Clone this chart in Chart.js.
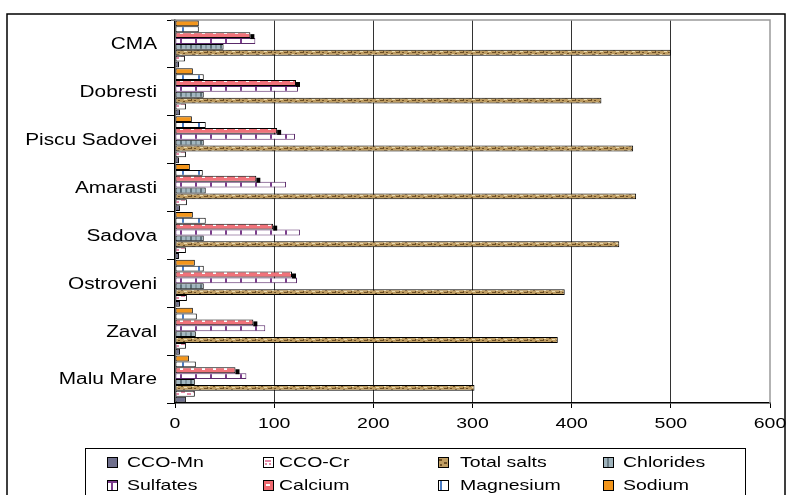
<!DOCTYPE html>
<html>
<head>
<meta charset="utf-8">
<script src="https://cdn.jsdelivr.net/npm/chart.js@4"></script>
<style>
  html, body { margin: 0; padding: 0; background: #fff; }
  #wrap { position: relative; width: 793px; height: 495px; }
</style>
</head>
<body>
<div id="wrap"><canvas id="chart" width="793" height="495"></canvas></div>
<script>
// stations, top to bottom
const stations = ['CMA', 'Dobresti', 'Piscu Sadovei', 'Amarasti', 'Sadova', 'Ostroveni', 'Zaval', 'Malu Mare'];
const xTicks = [0, 100, 200, 300, 400, 500, 600];

// values (mg/l), same order as stations
const ccoMn      = [4, 5, 4, 5, 4, 5, 5, 11];
const ccoCr      = [10, 11, 11, 12, 11, 12, 11, 20];
const totalSalts = [500, 430, 462, 465, 448, 393, 386, 302];
const chlorides  = [49, 29, 29, 31, 29, 29, 21, 20];
const sulfates   = [81, 124, 121, 112, 126, 123, 91, 72];
const calcium    = [76, 122, 103, 82, 99, 118, 79, 61];
const magnesium  = [24, 29, 31, 28, 31, 29, 22, 21];
const sodium     = [24, 18, 17, 15, 18, 20, 18, 14];

const FONT = '"Liberation Sans", Arial, sans-serif';
const STRETCH = 1.3; // the original text is drawn wide

// small tiles to mimic the excel fill textures
function tile(w, h, paint) {
    const c = document.createElement('canvas');
    c.width = w; c.height = h;
    const g = c.getContext('2d');
    paint(g);
    return document.getElementById('chart').getContext('2d').createPattern(c, 'repeat');
}

const fills = {
    ccoMn: '#6f6f8c',
    ccoCr: tile(12, 6, g => {
        g.fillStyle = '#fff'; g.fillRect(0, 0, 12, 6);
        g.fillStyle = '#e58aa8';
        g.fillRect(1, 1, 4, 2); g.fillRect(7, 3, 4, 2);
    }),
    totalSalts: tile(16, 6, g => {
        g.fillStyle = '#bf9d62'; g.fillRect(0, 0, 16, 6);
        g.fillStyle = '#6e5026';
        g.fillRect(0, 0, 3, 1); g.fillRect(5, 2, 2, 1); g.fillRect(10, 1, 3, 1);
        g.fillRect(2, 4, 2, 1); g.fillRect(12, 4, 3, 1); g.fillRect(7, 5, 2, 1);
        g.fillRect(15, 3, 1, 2);
        g.fillStyle = '#eadbb0';
        g.fillRect(4, 0, 2, 1); g.fillRect(8, 3, 3, 1); g.fillRect(14, 1, 2, 1); g.fillRect(0, 2, 2, 1);
    }),
    chlorides: tile(10, 6, g => {
        g.fillStyle = '#a3b7c0'; g.fillRect(0, 0, 10, 6);
        g.fillStyle = '#5f717a'; g.fillRect(0, 0, 2, 6);
        g.fillStyle = '#82969f'; g.fillRect(5, 0, 2, 6);
    }),
    sulfates: tile(15, 6, g => {
        g.fillStyle = '#fff'; g.fillRect(0, 0, 15, 6);
        g.fillStyle = '#7b3d8c'; g.fillRect(0, 0, 2, 6);
    }),
    calcium: tile(11, 6, g => {
        g.fillStyle = '#f0727a'; g.fillRect(0, 0, 11, 6);
        g.fillStyle = '#fff'; g.fillRect(4, 2, 3, 2);
    }),
    magnesium: tile(16, 6, g => {
        g.fillStyle = '#fff'; g.fillRect(0, 0, 16, 6);
        g.fillStyle = '#4a7cc4'; g.fillRect(6, 0, 2, 6);
    }),
    sodium: '#f3961c'
};

// legend swatches (10x10), drawn by hand so the texture reads at that size
const swatches = {
    ccoMn: (g, x, y) => { g.fillStyle = '#6f6f8c'; g.fillRect(x, y, 10, 10); },
    ccoCr: (g, x, y) => {
        g.fillStyle = '#fff'; g.fillRect(x, y, 10, 10);
        g.fillStyle = '#e58aa8'; g.fillRect(x + 2, y + 3, 6, 2); g.fillRect(x + 2, y + 6, 2, 2); g.fillRect(x + 6, y + 6, 2, 2);
    },
    totalSalts: (g, x, y) => {
        g.fillStyle = '#bf9d62'; g.fillRect(x, y, 10, 10);
        g.fillStyle = '#6e5026'; g.fillRect(x + 1, y + 2, 3, 2); g.fillRect(x + 6, y + 5, 3, 2); g.fillRect(x + 2, y + 7, 2, 2);
    },
    chlorides: (g, x, y) => {
        g.fillStyle = '#9fb3bc'; g.fillRect(x, y, 10, 10);
        g.fillStyle = '#6b7d86'; g.fillRect(x + 4, y, 2, 10);
    },
    sulfates: (g, x, y) => {
        g.fillStyle = '#fff'; g.fillRect(x, y, 10, 10);
        g.fillStyle = '#7b3d8c'; g.fillRect(x, y, 10, 3); g.fillRect(x + 4, y, 2, 10);
    },
    calcium: (g, x, y) => {
        g.fillStyle = '#f06a70'; g.fillRect(x, y, 10, 10);
        g.fillStyle = '#fff'; g.fillRect(x + 3, y + 4, 4, 2);
    },
    magnesium: (g, x, y) => {
        g.fillStyle = '#fff'; g.fillRect(x, y, 10, 10);
        g.fillStyle = '#4a7cc4'; g.fillRect(x + 2, y, 2, 10);
    },
    sodium: (g, x, y) => { g.fillStyle = '#f3961c'; g.fillRect(x, y, 10, 10); }
};

// legend order as in the picture
const series = [
    { key: 'ccoMn', label: 'CCO-Mn', data: ccoMn, border: '#000' },
    { key: 'ccoCr', label: 'CCO-Cr', data: ccoCr, border: '#000' },
    { key: 'totalSalts', label: 'Total salts', data: totalSalts, border: '#000' },
    { key: 'chlorides', label: 'Chlorides', data: chlorides, border: '#000' },
    { key: 'sulfates', label: 'Sulfates', data: sulfates, border: '#5a2a6a' },
    { key: 'calcium', label: 'Calcium', data: calcium, border: '#000' },
    { key: 'magnesium', label: 'Magnesium', data: magnesium, border: '#000' },
    { key: 'sodium', label: 'Sodium', data: sodium, border: '#000' }
];

// first series sits at the bottom of each group, so feed them reversed
const datasets = series.slice().reverse().map(s => ({
    label: s.label,
    data: s.data,
    backgroundColor: fills[s.key],
    borderColor: s.border,
    borderWidth: 1,
    borderSkipped: false,
    categoryPercentage: 0.98,
    barPercentage: 1
}));

function wideText(ctx, text, x, y, align) {
    ctx.save();
    ctx.translate(x, y);
    ctx.scale(STRETCH, 1);
    ctx.textAlign = align;
    ctx.fillText(text, 0, 0);
    ctx.restore();
}

const decor = {
    id: 'decor',
    beforeDatasetsDraw(chart) {
        // grey frame on top and right of the plot
        const { ctx, chartArea: a } = chart;
        ctx.save();
        ctx.strokeStyle = '#9a9a9a';
        ctx.lineWidth = 1.5;
        ctx.beginPath();
        ctx.moveTo(a.left - 4, a.top);
        ctx.lineTo(a.right, a.top);
        ctx.lineTo(a.right, a.bottom);
        ctx.stroke();
        ctx.restore();
    },
    afterDatasetsDraw(chart) {
        // little dark end cap on the calcium bars
        const ctx = chart.ctx;
        const idx = chart.data.datasets.findIndex(d => d.label === 'Calcium');
        const meta = chart.getDatasetMeta(idx);
        ctx.save();
        ctx.fillStyle = '#000';
        meta.data.forEach(bar => {
            ctx.fillRect(bar.x, bar.y - 1, 4, bar.height / 2 + 2);
        });
        ctx.restore();
    },
    afterDraw(chart) {
        const ctx = chart.ctx;
        const xs = chart.scales.x, ys = chart.scales.y;
        ctx.save();
        ctx.fillStyle = '#000';
        ctx.textBaseline = 'middle';

        // category labels
        ctx.font = '16px ' + FONT;
        stations.forEach((name, i) => wideText(ctx, name, 157, ys.getPixelForValue(i) + 1, 'right'));

        // value labels
        ctx.font = '15px ' + FONT;
        xTicks.forEach(v => wideText(ctx, String(v), xs.getPixelForValue(v), 424, 'center'));

        // outer border
        ctx.strokeStyle = '#000';
        ctx.lineWidth = 1.5;
        ctx.strokeRect(7, 14, 778, 500);

        // legend
        ctx.lineWidth = 1;
        ctx.strokeRect(85.5, 448.5, 660, 60);
        const cols = [[107, 127], [263, 279], [438, 460], [603, 623]];
        const rows = [462, 485];
        series.forEach((s, i) => {
            const [sx, tx] = cols[i % 4];
            const y = rows[Math.floor(i / 4)];
            swatches[s.key](ctx, sx, y - 5);
            ctx.strokeStyle = '#000';
            ctx.strokeRect(sx + 0.5, y - 4.5, 10, 10);
            ctx.fillStyle = '#000';
            wideText(ctx, s.label, tx, y + 1, 'left');
        });
        ctx.restore();
    }
};

new Chart(document.getElementById('chart'), {
    type: 'bar',
    data: { labels: stations, datasets: datasets },
    plugins: [decor],
    options: {
        indexAxis: 'y',
        responsive: false,
        animation: false,
        layout: { padding: { left: 0, right: 23, top: 20, bottom: 62 } },
        plugins: { legend: { display: false }, tooltip: { enabled: false } },
        scales: {
            x: {
                min: 0,
                max: 600,
                afterBuildTicks: scale => { scale.ticks = xTicks.map(v => ({ value: v })); },
                afterFit: scale => { scale.height = 30; },
                border: { color: '#000', width: 1.5 },
                grid: {
                    color: ctx => (ctx.tick && (ctx.tick.value === 0 || ctx.tick.value === 600)) ? 'rgba(0,0,0,0)' : '#333',
                    lineWidth: 1,
                    tickLength: 5,
                    tickColor: '#000'
                },
                ticks: { display: false }
            },
            y: {
                afterFit: scale => { scale.width = 175; },
                border: { color: '#000', width: 1.5 },
                grid: { drawOnChartArea: false, tickLength: 8, tickColor: '#000', offset: true },
                ticks: { display: false }
            }
        }
    }
});
</script>
</body>
</html>
